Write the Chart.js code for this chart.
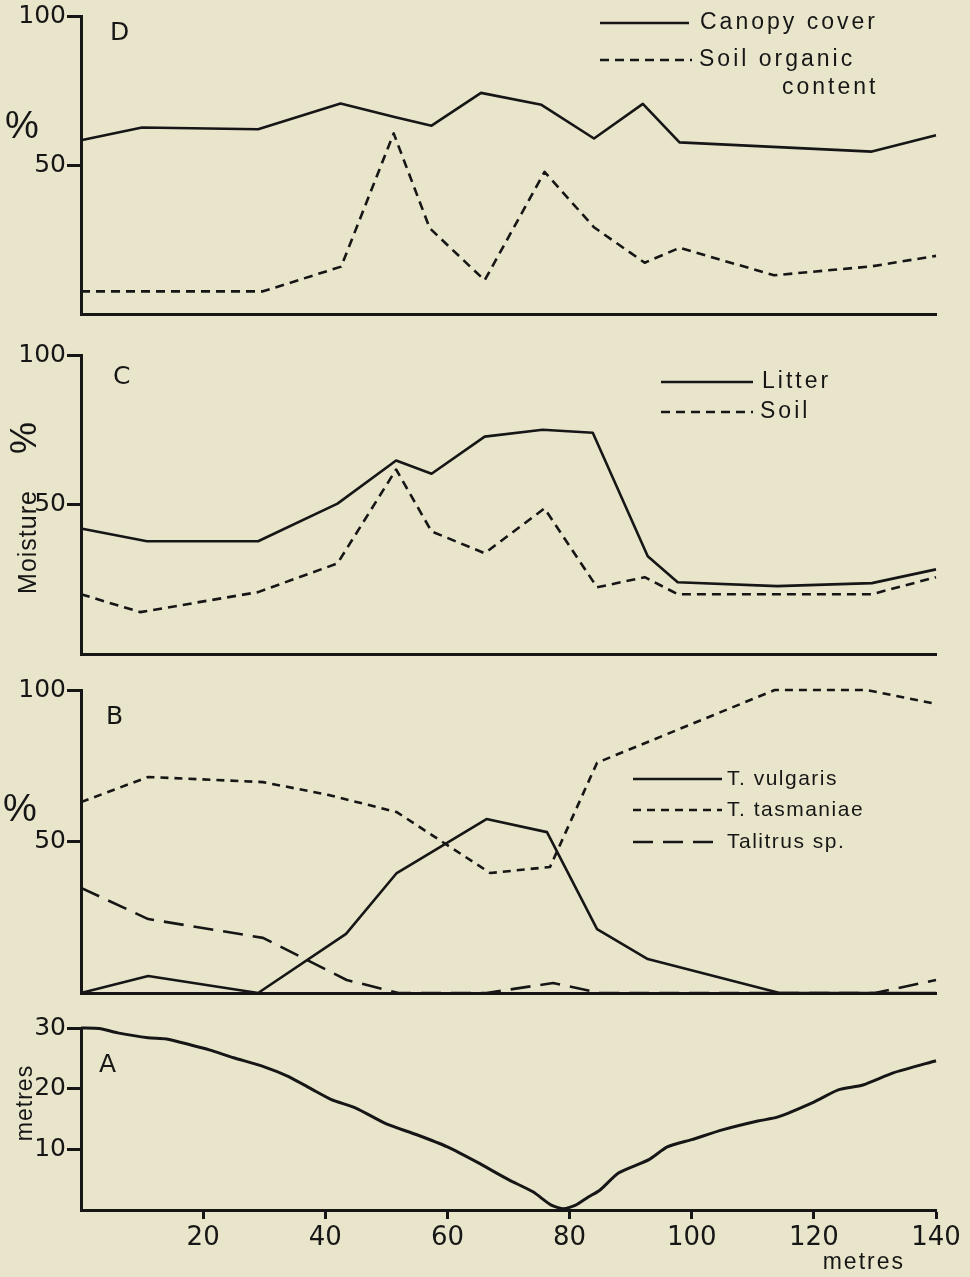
<!DOCTYPE html>
<html>
<head>
<meta charset="utf-8">
<script src="https://cdn.jsdelivr.net/npm/chart.js@4.4.1/dist/chart.umd.min.js"></script>
<style>
html, body { margin: 0; padding: 0; background: #e9e5cb; }
body { width: 970px; height: 1277px; position: relative; overflow: hidden; }
canvas { position: absolute; left: 0; }
</style>
</head>
<body>
<canvas id="panelD" width="970" height="330" style="top:0px"></canvas>
<canvas id="panelC" width="970" height="340" style="top:330px"></canvas>
<canvas id="panelB" width="970" height="340" style="top:670px"></canvas>
<canvas id="panelA" width="970" height="267" style="top:1010px"></canvas>
<script>
// distance along transect (metres) and values
var canopyX = [0, 10, 29, 42.5, 51.5, 57.4, 65.5, 75.4, 84, 92, 98, 129.5, 140];
var canopyY = [58.3, 62.6, 62, 70.6, 66, 63.2, 74.2, 70.2, 58.9, 70.5, 57.6, 54.5, 60];
var organicX = [0, 29.8, 42.6, 51.2, 57.1, 66.1, 75.9, 84, 92.3, 98, 113.5, 129.5, 140];
var organicY = [7.6, 7.6, 15.9, 60.6, 28.8, 11.3, 47.7, 29.1, 17.2, 22.2, 13, 16, 19.5];

var litterX = [0, 10.8, 29, 42, 51.6, 57.4, 66.1, 75.6, 83.8, 92.8, 97.7, 114, 129.5, 140];
var litterY = [42, 37.7, 37.7, 50.3, 64.7, 60.3, 72.7, 75, 74, 32.7, 24, 22.7, 23.7, 28.3];
var soilX = [0, 9.7, 29, 42, 51.6, 57.4, 66.1, 75.9, 84.5, 92.3, 97.7, 129.5, 140];
var soilY = [20, 14, 20.7, 30.3, 61.7, 41, 33.7, 48.7, 22.3, 25.7, 20, 20, 25.7];

var vulgarisX = [0, 11, 29, 43.4, 51.7, 66.4, 76.3, 84.5, 92.8, 114.4, 140];
var vulgarisY = [0, 5.6, 0, 19.5, 39.6, 57.4, 53.1, 21.1, 11.2, 0, 0];
var tasmaniaeX = [0, 11, 29.8, 40.7, 51.7, 67, 76.8, 84.5, 113.6, 128.6, 140];
var tasmaniaeY = [63, 71.3, 69.6, 65.3, 59.7, 39.6, 41.6, 76, 100, 100, 95.4];
var talitrusX = [0, 11, 29.8, 43.5, 52, 66.4, 77.3, 85, 130, 140];
var talitrusY = [34.7, 24.4, 18.2, 4.3, 0, 0, 3.3, 0, 0, 4.3];

var elevX = [0, 3, 6, 11, 14, 18, 21, 25, 30, 34, 38, 41, 45, 50, 55, 60, 65, 70, 74, 77, 79, 81, 83, 85, 88, 93, 96, 100, 105, 111, 114, 120, 124, 128, 133, 140];
var elevY = [30, 29.9, 29.2, 28.4, 28.2, 27.2, 26.4, 25.1, 23.6, 22, 19.8, 18.2, 16.8, 14.2, 12.4, 10.4, 7.8, 5, 3, 0.8, 0.2, 0.8, 2.1, 3.3, 6.1, 8.3, 10.4, 11.6, 13.2, 14.7, 15.3, 17.8, 19.8, 20.6, 22.6, 24.6];

var percentTicks = [50, 100];
var elevTicks = [10, 20, 30];
var distanceTicks = [20, 40, 60, 80, 100, 120, 140];

var INK = '#161616';
var FONT = '"Liberation Sans", Arial, sans-serif';
var TICKFONT = '"DejaVu Sans", sans-serif';

function pts(xs, ys) {
  return xs.map(function (x, i) { return { x: x, y: ys[i] }; });
}

function line(label, xs, ys, dash, width, tension) {
  return {
    label: label,
    data: pts(xs, ys),
    borderColor: INK,
    borderWidth: width || 2.6,
    borderDash: dash || [],
    borderJoinStyle: 'round',
    pointRadius: 0,
    tension: tension || 0,
    clip: 4
  };
}

// panel letters, axis captions and the hand-drawn style legends
var inkPlugin = {
  id: 'ink',
  afterDraw: function (chart, args, opts) {
    var ctx = chart.ctx;
    (opts.texts || []).forEach(function (t) {
      ctx.save();
      ctx.fillStyle = INK;
      ctx.font = t.font;
      ctx.letterSpacing = t.spacing || '0px';
      ctx.textAlign = t.align || 'left';
      ctx.textBaseline = 'middle';
      ctx.translate(t.x, t.y);
      if (t.rotate) ctx.rotate(t.rotate);
      ctx.fillText(t.text, 0, 0);
      ctx.restore();
    });
    (opts.legend || []).forEach(function (item, i) {
      var ds = chart.data.datasets[i];
      ctx.save();
      ctx.strokeStyle = INK;
      ctx.lineWidth = 2.6;
      ctx.setLineDash(ds.borderDash || []);
      ctx.beginPath();
      ctx.moveTo(item.x0, item.y);
      ctx.lineTo(item.x1, item.y);
      ctx.stroke();
      ctx.setLineDash([]);
      ctx.fillStyle = INK;
      ctx.font = opts.legendFont;
      ctx.letterSpacing = opts.legendSpacing || '0px';
      ctx.textBaseline = 'middle';
      var parts = ds.label.split('\n');
      parts.forEach(function (p, k) {
        var x = k === 0 ? item.tx : item.tx + (item.indent || 0);
        ctx.fillText(p, x, item.y + k * 28);
      });
      ctx.restore();
    });
  }
};

function panel(id, datasets, yMax, yTicks, top, xHeight, showX, ink) {
  return new Chart(document.getElementById(id).getContext('2d'), {
    type: 'line',
    data: { datasets: datasets },
    plugins: [inkPlugin],
    options: {
      responsive: false,
      animation: false,
      layout: { padding: { top: top, right: 34, left: 0, bottom: 0 } },
      plugins: { legend: { display: false }, tooltip: { enabled: false }, ink: ink },
      scales: {
        x: {
          type: 'linear', min: 0, max: 140,
          afterBuildTicks: function (s) {
            s.ticks = showX ? distanceTicks.map(function (v) { return { value: v }; }) : [];
          },
          afterFit: function (s) { s.height = xHeight; },
          border: { color: INK, width: 3 },
          grid: { drawOnChartArea: false, drawTicks: showX, color: INK, tickLength: 9, tickWidth: 3 },
          ticks: { display: showX, color: INK, padding: 4, maxRotation: 0, autoSkip: false,
                   font: { family: TICKFONT, size: 26 } }
        },
        y: {
          type: 'linear', min: 0, max: yMax,
          afterBuildTicks: function (s) {
            s.ticks = yTicks.map(function (v) { return { value: v }; });
          },
          afterFit: function (s) { s.width = 81; },
          border: { color: INK, width: 3 },
          grid: { drawOnChartArea: false, color: INK, tickLength: 14, tickWidth: 3 },
          ticks: { color: INK, padding: 1, font: { family: TICKFONT, size: 25 } }
        }
      }
    }
  });
}

var textFont = '25px ' + TICKFONT;

panel('panelD', [
  line('Canopy cover', canopyX, canopyY),
  line('Soil organic\ncontent', organicX, organicY, [9, 6])
], 100, percentTicks, 13, 15, false, {
  texts: [
    { text: 'D', x: 110, y: 33, font: textFont },
    { text: '%', x: 22, y: 128, font: '38px ' + FONT, align: 'center' }
  ],
  legendFont: '23px ' + FONT, legendSpacing: '3px',
  legend: [
    { x0: 600, x1: 689, y: 23, tx: 700 },
    { x0: 600, x1: 692, y: 60, tx: 699, indent: 83 }
  ]
});

panel('panelC', [
  line('Litter', litterX, litterY),
  line('Soil', soilX, soilY, [9, 6])
], 100, percentTicks, 25, 15, false, {
  texts: [
    { text: 'C', x: 113, y: 47, font: textFont },
    { text: 'Moisture', x: 29, y: 212, font: '25px ' + FONT, align: 'center', rotate: -Math.PI / 2, spacing: '1px' },
    { text: '%', x: 26, y: 108, font: '36px ' + FONT, align: 'center', rotate: -Math.PI / 2 }
  ],
  legendFont: '23px ' + FONT, legendSpacing: '3px',
  legend: [
    { x0: 661, x1: 753, y: 52, tx: 762 },
    { x0: 661, x1: 753, y: 82, tx: 760 }
  ]
});

panel('panelB', [
  line('T. vulgaris', vulgarisX, vulgarisY),
  line('T. tasmaniae', tasmaniaeX, tasmaniaeY, [8, 6]),
  line('Talitrus sp.', talitrusX, talitrusY, [20, 10])
], 100, percentTicks, 20, 17, false, {
  texts: [
    { text: 'B', x: 106, y: 47, font: textFont },
    { text: '%', x: 20, y: 141, font: '38px ' + FONT, align: 'center' }
  ],
  legendFont: '21px ' + FONT, legendSpacing: '1.5px',
  legend: [
    { x0: 633, x1: 722, y: 109, tx: 727 },
    { x0: 633, x1: 722, y: 140, tx: 727 },
    { x0: 633, x1: 722, y: 172, tx: 727 }
  ]
});

panel('panelA', [
  line('Elevation', elevX, elevY, [], 3, 0.2)
], 30, elevTicks, 18, 67, true, {
  texts: [
    { text: 'A', x: 99, y: 55, font: textFont },
    { text: 'metres', x: 26, y: 93, font: '23px ' + FONT, align: 'center', rotate: -Math.PI / 2, spacing: '1px' },
    { text: 'metres', x: 905, y: 253, font: '23px ' + FONT, align: 'right', spacing: '2px' }
  ]
});
</script>
</body>
</html>
